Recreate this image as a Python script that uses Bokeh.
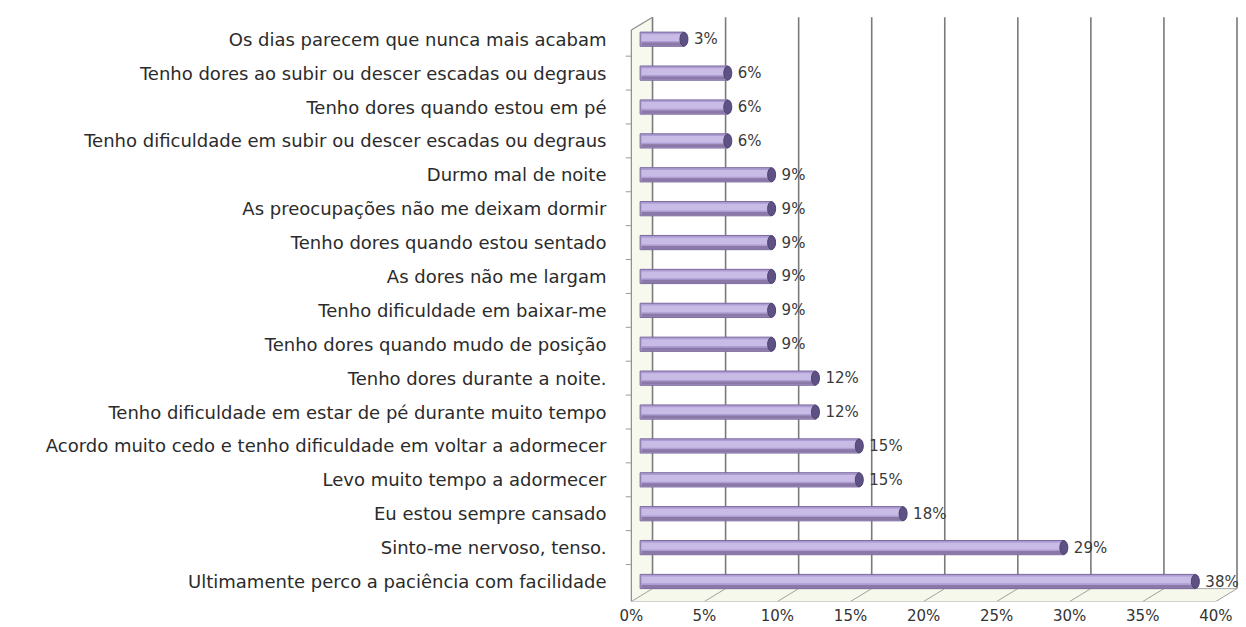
import numpy as np
from bokeh.plotting import figure
from bokeh.models import Range1d, FixedTicker
from bokeh.core.properties import value
from bokeh.embed import file_html
from bokeh.resources import INLINE

# ---- data (top to bottom as in the picture) ----
categories = [
    "Os dias parecem que nunca mais acabam",
    "Tenho dores ao subir ou descer escadas ou degraus",
    "Tenho dores quando estou em pé",
    "Tenho dificuldade em subir ou descer escadas ou degraus",
    "Durmo mal de noite",
    "As preocupações não me deixam dormir",
    "Tenho dores quando estou sentado",
    "As dores não me largam",
    "Tenho dificuldade em baixar-me",
    "Tenho dores quando mudo de posição",
    "Tenho dores durante a noite.",
    "Tenho dificuldade em estar de pé durante muito tempo",
    "Acordo muito cedo e tenho dificuldade em voltar a adormecer",
    "Levo muito tempo a adormecer",
    "Eu estou sempre cansado",
    "Sinto-me nervoso, tenso.",
    "Ultimamente perco a paciência com facilidade",
]
percent_values = [3, 6, 6, 6, 9, 9, 9, 9, 9, 9, 12, 12, 15, 15, 18, 29, 38]
x_ticks = [0, 5, 10, 15, 20, 25, 30, 35, 40]
x_tick_labels = ["0%", "5%", "10%", "15%", "20%", "25%", "30%", "35%", "40%"]

# bottom-to-top order for numeric y positions
cats_bt = categories[::-1]
vals_bt = np.array(percent_values[::-1], dtype=float)
n = len(cats_bt)
ys = np.arange(n) + 0.5

# 3D geometry (data units)
FRONT = -0.6      # x shift of front edge
BACK = 0.85       # x shift of back wall
Y0 = -0.09
Y1 = 17.2
DEPTH_Y = 0.38    # floor depth in y units

p = figure(width=1246, height=627, output_backend="svg", toolbar_location=None,
           x_range=Range1d(-1.0, 41.5), y_range=Range1d(Y0, Y1),
           min_border_left=625, min_border_right=0, min_border_top=15,
           min_border_bottom=24)
p.outline_line_color = None
p.xgrid.visible = False
p.ygrid.visible = False
p.background_fill_color = "white"

# floor and side wall (very light fill)
p.patch([FRONT, x_ticks[-1] + FRONT, x_ticks[-1] + BACK, BACK],
        [Y0, Y0, Y0 + DEPTH_Y, Y0 + DEPTH_Y],
        fill_color="#f6f8ec", line_color=None)
p.patch([FRONT, BACK, BACK, FRONT],
        [Y0, Y0 + DEPTH_Y, Y1 - 0.05, Y1 - 0.43],
        fill_color="#f7f9ef", line_color=None)

# back wall gridlines
gx = [t + BACK for t in x_ticks]
p.segment(x0=gx, y0=[Y0 + DEPTH_Y] * len(gx), x1=gx, y1=[Y1 - 0.05] * len(gx),
          line_color="#7a7a7a", line_width=1.6)
# floor slanted lines
p.segment(x0=[t + FRONT for t in x_ticks], y0=[Y0] * len(x_ticks),
          x1=gx, y1=[Y0 + DEPTH_Y] * len(x_ticks),
          line_color="#a0a0a0", line_width=1)
# floor edges
p.segment(x0=[FRONT, BACK], y0=[Y0, Y0 + DEPTH_Y],
          x1=[x_ticks[-1] + FRONT, x_ticks[-1] + BACK], y1=[Y0, Y0 + DEPTH_Y],
          line_color="#a8a8a8", line_width=1)
# front vertical axis line and top slant
p.segment(x0=[FRONT, FRONT], y0=[Y0, Y1 - 0.43], x1=[FRONT, BACK], y1=[Y1 - 0.43, Y1 - 0.05],
          line_color="#8c8c8c", line_width=1.2)
# small tick marks at band boundaries
bnd = list(np.arange(0, n + 1)[1:n])
p.segment(x0=[FRONT - 0.4] * len(bnd), y0=bnd, x1=[FRONT] * len(bnd), y1=bnd,
          line_color="#9a9a9a", line_width=1)

# bars (cylinder look)
p.hbar(y=ys, height=0.42, left=0, right=vals_bt, fill_color="#ae9dd3",
       line_color="#7a6a9e", line_width=1)
p.hbar(y=ys + 0.045, height=0.2, left=0.1, right=vals_bt - 0.1,
       fill_color="#c8bbe6", line_color=None)
p.hbar(y=ys - 0.145, height=0.09, left=0.1, right=vals_bt - 0.1,
       fill_color="#8a79a6", line_color=None)
p.ellipse(x=vals_bt, y=ys, width=8, height=14, width_units="screen",
          height_units="screen", fill_color="#5e5183", line_color="#4e4270")

# value labels
p.text(x=vals_bt, y=ys, text=[f"{int(v)}%" for v in vals_bt], x_offset=10,
       text_baseline="middle", text_align="left",
       text_font=value("DejaVu Sans"), text_font_size="15px", text_color="#3a3a3a")

# x axis (labels sit at the front edge)
xt = [t + FRONT for t in x_ticks]
p.xaxis.ticker = FixedTicker(ticks=xt)
p.xaxis.major_label_overrides = {k: lab for k, lab in zip(xt, x_tick_labels)}
p.xaxis.axis_line_color = None
p.xaxis.major_tick_line_color = None
p.xaxis.major_tick_out = 0
p.xaxis.major_tick_in = 0
p.xaxis.minor_tick_line_color = None
p.xaxis.minor_tick_out = 0
p.xaxis.major_label_standoff = 5
p.xaxis.major_label_text_font = "DejaVu Sans"
p.xaxis.major_label_text_font_size = "15px"
p.xaxis.major_label_text_color = "#333333"

# y axis (category labels)
p.yaxis.ticker = FixedTicker(ticks=list(ys))
p.yaxis.major_label_overrides = {float(y): c for y, c in zip(ys, cats_bt)}
p.yaxis.axis_line_color = None
p.yaxis.major_tick_line_color = None
p.yaxis.major_tick_out = 0
p.yaxis.major_tick_in = 0
p.yaxis.minor_tick_line_color = None
p.yaxis.minor_tick_out = 0
p.yaxis.major_label_standoff = 19
p.yaxis.major_label_text_font = "DejaVu Sans"
p.yaxis.major_label_text_font_size = "18px"
p.yaxis.major_label_text_color = "#2b2b2b"

open("out.html", "w").write(file_html(p, INLINE))
